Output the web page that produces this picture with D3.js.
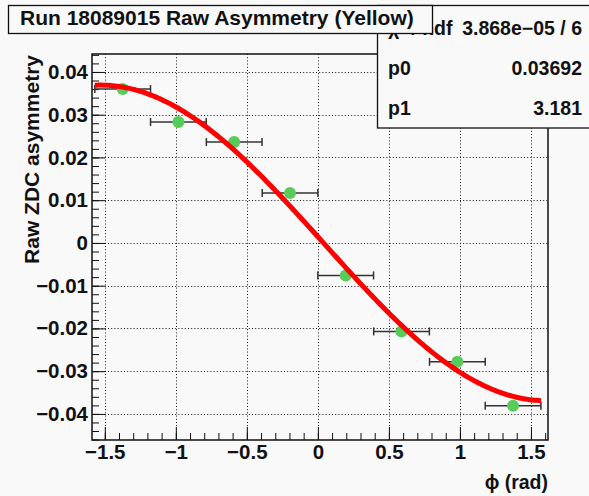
<!DOCTYPE html>
<html><head><meta charset="utf-8">
<script src="https://cdn.jsdelivr.net/npm/d3@7"></script>
<style>
html,body{margin:0;padding:0;background:#f9f9f9;}
svg{display:block;}
text{font-family:"Liberation Sans",Arial,Helvetica,sans-serif;font-weight:bold;fill:#111;}
</style>
</head><body>
<svg id="c" width="589" height="496"></svg>
<script>
// ---- data ----
const phiValues   = [-1.374, -0.982, -0.589, -0.196, 0.196, 0.589, 0.982, 1.374];
const asymValues  = [0.0360, 0.0283, 0.0236, 0.0117, -0.0076, -0.0207, -0.0278, -0.0381];
const phiErrors   = [0.196, 0.196, 0.196, 0.196, 0.196, 0.196, 0.196, 0.196];
const fitP0 = 0.03692;
const fitP1 = 3.181;
const fitRange = [-Math.PI / 2, Math.PI / 2];
const xTickValues = [-1.5, -1, -0.5, 0, 0.5, 1, 1.5];
const xTickLabels = ["\u22121.5", "\u22121", "\u22120.5", "0", "0.5", "1", "1.5"];
const yTickValues = [0.04, 0.03, 0.02, 0.01, 0, -0.01, -0.02, -0.03, -0.04];
const yTickLabels = ["0.04", "0.03", "0.02", "0.01", "0", "\u22120.01", "\u22120.02", "\u22120.03", "\u22120.04"];
const titleText = "Run 18089015 Raw Asymmetry (Yellow)";
const xTitle = "\u03d5 (rad)";
const yTitle = "Raw ZDC asymmetry";
const statsRows = [
  {label: "chi", value: "3.868e\u221205 / 6"},
  {label: "p0", value: "0.03692"},
  {label: "p1", value: "3.181"}
];

// ---- layout ----
const svg = d3.select("#c");
const L = 92, R = 548, T = 54, B = 440;
const x = d3.scaleLinear().domain([-1.59, 1.62]).range([L, R]);
const y = d3.scaleLinear().domain([-0.0461, 0.0442]).range([B, T]);
const FS = 20.5;

svg.append("rect").attr("x", L).attr("y", T).attr("width", R - L).attr("height", B - T)
  .attr("fill", "#f9f9f9");

// grid
const grid = svg.append("g").attr("stroke", "#111").attr("stroke-width", 1).attr("stroke-dasharray", "1,2.2");
grid.selectAll("line.gx").data(xTickValues).join("line")
  .attr("x1", d => Math.round(x(d)) + 0.5).attr("x2", d => Math.round(x(d)) + 0.5)
  .attr("y1", T).attr("y2", B);
grid.selectAll("line.gy").data(yTickValues).join("line")
  .attr("x1", L).attr("x2", R)
  .attr("y1", d => Math.round(y(d)) + 0.5).attr("y2", d => Math.round(y(d)) + 0.5);

// axes
const xMinor = d3.range(-16, 17).map(i => i / 10).filter(v => v >= -1.59 && v <= 1.62);
const yMinor = d3.range(-23, 23).map(i => i * 0.002).filter(v => v >= -0.0461 && v <= 0.0442);

const gxMinor = svg.append("g").attr("transform", `translate(0,${B})`)
  .call(d3.axisBottom(x).tickValues(xMinor).tickSize(-7).tickFormat(""));
const gx = svg.append("g").attr("transform", `translate(0,${B})`)
  .call(d3.axisBottom(x).tickValues(xTickValues).tickSize(-13).tickPadding(4)
    .tickFormat((d, i) => xTickLabels[i]));
const gyMinor = svg.append("g").attr("transform", `translate(${L},0)`)
  .call(d3.axisLeft(y).tickValues(yMinor).tickSize(-7).tickFormat(""));
const gy = svg.append("g").attr("transform", `translate(${L},0)`)
  .call(d3.axisLeft(y).tickValues(yTickValues).tickSize(-13).tickPadding(4)
    .tickFormat((d, i) => yTickLabels[i]));
[gx, gy, gxMinor, gyMinor].forEach(g => {
  g.select(".domain").remove();
  g.selectAll(".tick line").attr("stroke", "#111").attr("stroke-width", 1);
  g.selectAll("text").attr("font-size", FS).attr("fill", "#111")
    .attr("font-family", '"Liberation Sans",Arial,sans-serif').attr("font-weight", "bold");
});

// error bars
const eb = svg.append("g").attr("stroke", "#333").attr("stroke-width", 1.5);
phiValues.forEach((p, i) => {
  const yy = y(asymValues[i]);
  const x1 = x(p - phiErrors[i]), x2 = x(p + phiErrors[i]);
  eb.append("line").attr("x1", x1).attr("x2", x2).attr("y1", yy).attr("y2", yy);
  eb.append("line").attr("x1", x1).attr("x2", x1).attr("y1", yy - 4).attr("y2", yy + 4);
  eb.append("line").attr("x1", x2).attr("x2", x2).attr("y1", yy - 4).attr("y2", yy + 4);
});

// markers
svg.append("g").selectAll("circle").data(phiValues).join("circle")
  .attr("cx", d => x(d)).attr("cy", (d, i) => y(asymValues[i])).attr("r", 6)
  .attr("fill", "#58cc58");

// fit curve
const fitFn = v => fitP0 * Math.sin(v - fitP1);
const fitXs = d3.range(0, 201).map(i => fitRange[0] + (fitRange[1] - fitRange[0]) * i / 200);
svg.append("path").datum(fitXs)
  .attr("d", d3.line().x(d => x(d)).y(d => y(fitFn(d))))
  .attr("fill", "none").attr("stroke", "#ff0000").attr("stroke-width", 5);

// frame
svg.append("rect").attr("x", L).attr("y", T).attr("width", R - L).attr("height", B - T)
  .attr("fill", "none").attr("stroke", "#111").attr("stroke-width", 1.5);

// axis titles
svg.append("text").attr("transform", `translate(39,${T + 1}) rotate(-90)`)
  .attr("text-anchor", "end").attr("font-size", 21).text(yTitle);
svg.append("text").attr("x", R).attr("y", 489).attr("text-anchor", "end")
  .attr("font-size", 19.5).text(xTitle);

// stats box
svg.append("rect").attr("x", 377.5).attr("y", 5.5).attr("width", 230).attr("height", 122.5)
  .attr("fill", "#f9f9f9").attr("stroke", "#111").attr("stroke-width", 1.3);
const rowY = [35, 75, 115];
statsRows.forEach((r, i) => {
  const t = svg.append("text").attr("x", 388).attr("y", rowY[i]).attr("font-size", 19.5);
  if (r.label === "chi") {
    t.append("tspan").text("\u03c7");
    t.append("tspan").attr("font-size", 12).attr("dy", -8).text("2");
    t.append("tspan").attr("dy", 8).text(" / ndf");
  } else {
    t.text(r.label);
  }
  svg.append("text").attr("x", 582).attr("y", rowY[i]).attr("text-anchor", "end")
    .attr("font-size", 19.5).text(r.value);
});

// title box (drawn over the stats box, as in the reference)
svg.append("rect").attr("x", 8.5).attr("y", 5.5).attr("width", 424).attr("height", 28)
  .attr("fill", "#f9f9f9").attr("stroke", "#111").attr("stroke-width", 1.3);
svg.append("text").attr("x", 20).attr("y", 25).attr("font-size", 21).text(titleText);
</script>
</body></html>
